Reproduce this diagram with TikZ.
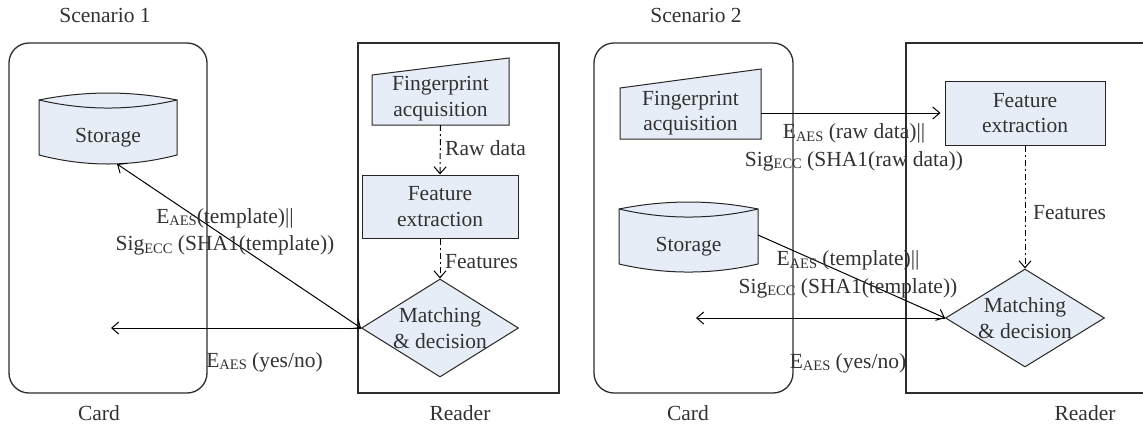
\documentclass[tikz,border=0pt]{standalone}
\usepackage{fontspec}
\setmainfont{Liberation Serif}
\usetikzlibrary{arrows.meta,calc,shapes.geometric}
\definecolor{boxfill}{RGB}{230,237,247}
\definecolor{txtcol}{RGB}{50,50,50}
\definecolor{framecol}{RGB}{45,45,45}
\newcommand{\lowsc}[1]{\raisebox{-0.12em}{\fontsize{14.5}{14.5}\selectfont #1}}
\tikzset{
  frameline/.style={draw=framecol, line width=1.3pt},
  shapeline/.style={draw=black!85, line width=1pt, fill=boxfill},
  procbox/.style={shapeline, rectangle, inner sep=0pt, align=center},
  decbox/.style={shapeline, diamond, inner sep=0pt},
  txtnode/.style={inner sep=0pt, align=center},
  arr/.style={-{Straight Barb[length=7pt,width=12pt]}, line width=1pt, draw=black},
  biarr/.style={{Straight Barb[length=7pt,width=12pt]}-{Straight Barb[length=7pt,width=12pt]}, line width=1pt, draw=black},
  darr/.style={arr, dash pattern=on 6pt off 3pt on 2pt off 3pt}
}
\begin{document}
\begin{tikzpicture}[x=1pt, y=-1pt, font=\fontsize{21.5}{25.5}\selectfont, text=txtcol]
\useasboundingbox (0,0) rectangle (1143,429);
\fill[white] (0,0) rectangle (1143,429);

% ---------------- Scenario 1 ----------------
\node[txtnode] (scen1) at (105,15) {Scenario 1};
\draw[frameline, rounded corners=20pt] (9,43) rectangle (207,393);
\draw[frameline] (358,43) rectangle (559,393);
\node[txtnode] (card1) at (99,413) {Card};
\node[txtnode] (reader1) at (460,413) {Reader};

% storage 1
\draw[shapeline] (39,100) .. controls (85,90.7) and (131,90.7) .. (177,100)
  -- (177,155) .. controls (131,167) and (85,167) .. (39,155) -- cycle;
\draw[line width=1pt, black!85] (39,100) .. controls (85,110.7) and (131,110.7) .. (177,100);
\node[txtnode] (st1) at (108,138) {Storage};
\coordinate (st1b) at (117,164);

% fingerprint acquisition 1
\draw[shapeline] (372,125) -- (372,75) -- (509,58) -- (509,125) -- cycle;
\node[txtnode, minimum width=137, minimum height=53] (fa1) at (440.5,98.5) {Fingerprint\\acquisition};

% feature extraction 1
\node[procbox, minimum width=156, minimum height=63] (fe1) at (440,206.5) {Feature\\extraction};

% matching 1
\node[decbox, minimum width=157, minimum height=98] (dm1) at (440,328) {};
\node[txtnode] (dm1t) at (dm1.center) {Matching\\\& decision};

\draw[darr] (fa1.south) -- (fe1.north);
\node[txtnode, anchor=west] (raw1) at (445,148) {Raw data};
\draw[darr] (fe1.south) -- (dm1.north);
\node[txtnode, anchor=west] (feat1) at (445,262) {Features};

\draw[biarr] (st1b) -- (dm1.west);
\coordinate (yn1) at (111,328);
\draw[arr] (dm1.west) -- (yn1);

\node[txtnode] (lbl1a) at (225,232) {E\lowsc{AES}(template)||\\[2pt]Sig\lowsc{ECC} (SHA1(template))};
\node[txtnode] (lbl1b) at (264.5,362) {E\lowsc{AES} (yes/no)};

% ---------------- Scenario 2 ----------------
\node[txtnode] (scen2) at (696,15) {Scenario 2};
\draw[frameline, rounded corners=20pt] (594,43) rectangle (793,393);
\draw[frameline] (1150,43) -- (906,43) -- (906,393) -- (1150,393);
\node[txtnode] (card2) at (688,413) {Card};
\node[txtnode] (reader2) at (1085,413) {Reader};

% fingerprint acquisition 2
\draw[shapeline] (620,139) -- (620,88) -- (761,69) -- (761,139) -- cycle;
\node[txtnode, minimum width=141, minimum height=52] (fa2) at (690.5,113) {Fingerprint\\acquisition};

% feature extraction 2
\node[procbox, minimum width=160, minimum height=64] (fe2) at (1025,113) {Feature\\extraction};

% storage 2
\draw[shapeline] (619,209) .. controls (665,199.7) and (712,199.7) .. (758,209)
  -- (758,264) .. controls (712,274.7) and (665,274.7) .. (619,264) -- cycle;
\draw[line width=1pt, black!85] (619,209) .. controls (665,219.7) and (712,219.7) .. (758,209);
\node[txtnode] (st2) at (688.5,247) {Storage};
\coordinate (st2r) at (758,235);

% matching 2
\node[decbox, minimum width=159, minimum height=98] (dm2) at (1025,318) {};
\node[txtnode] (dm2t) at (dm2.center) {Matching\\\& decision};

\draw[arr, shorten >=4pt] (fa2.east) -- (fe2.west);
\node[txtnode] (lbl2a) at (854,147.5) {E\lowsc{AES} (raw data)||\\[2pt]Sig\lowsc{ECC} (SHA1(raw data))};

\draw[darr] (fe2.south) -- (dm2.north);
\node[txtnode, anchor=west] (feat2) at (1033,213) {Features};

\draw[arr] (st2r) -- (dm2.west);
\coordinate (yn2) at (696,318);
\draw[arr] (dm2.west) -- (yn2);

\node[txtnode] (lbl2b) at (848,274.5) {E\lowsc{AES} (template)||\\[2pt]Sig\lowsc{ECC} (SHA1(template))};
\node[txtnode] (lbl2c) at (848,363) {E\lowsc{AES} (yes/no)};
\end{tikzpicture}
\end{document}
